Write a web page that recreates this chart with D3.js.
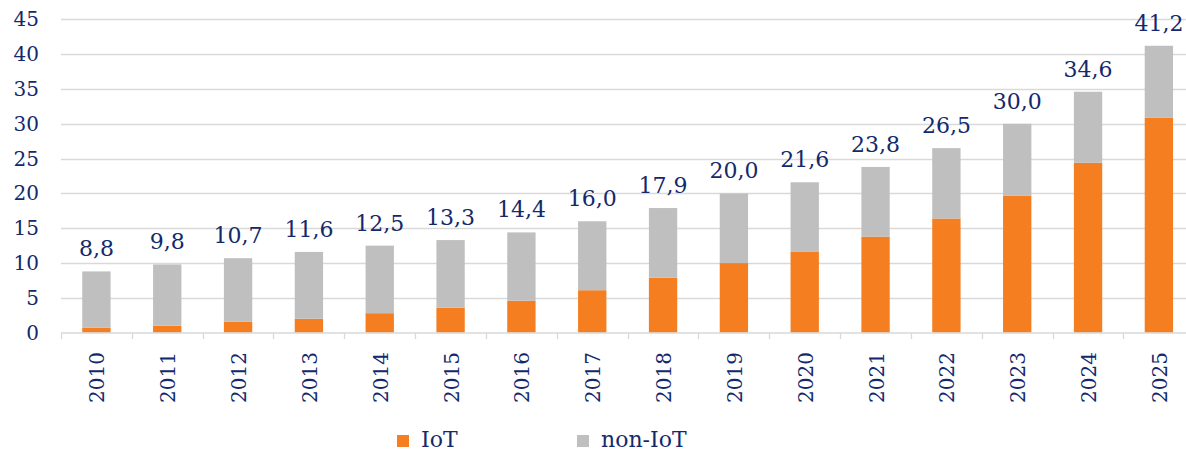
<!DOCTYPE html>
<html>
<head>
<meta charset="utf-8">
<script src="https://cdn.jsdelivr.net/npm/d3@7"></script>
<style>
  body { margin: 0; background: #fff; }
  svg { display: block; font-family: "DejaVu Serif", serif; }
</style>
</head>
<body>
<svg id="chart"></svg>
<script>
// Chart data
var years = ["2010", "2011", "2012", "2013", "2014", "2015", "2016", "2017",
             "2018", "2019", "2020", "2021", "2022", "2023", "2024", "2025"];
var iot    = [0.7, 1.0, 1.6, 2.0, 2.8, 3.6, 4.6, 6.1, 7.9, 10.0, 11.6, 13.8, 16.4, 19.7, 24.4, 30.9];
var nonIot = [8.1, 8.8, 9.1, 9.6, 9.7, 9.7, 9.8, 9.9, 10.0, 10.0, 10.0, 10.0, 10.1, 10.3, 10.2, 10.3];
var yTicks = [0, 5, 10, 15, 20, 25, 30, 35, 40, 45];
var seriesNames = ["IoT", "non-IoT"];

// Canvas size:
const width = 1186, height = 453;
const navy = "#13296b", orange = "#f47e20", grey = "#bfbfbf";

var svg = d3.select("#chart")
    .attr("width", width)
    .attr("height", height);

// Build rows for the stack layout
var rows = years.map(function(y, i) { return {year: y, iot: iot[i], nonIot: nonIot[i]}; });
var stack = d3.stack().keys(["iot", "nonIot"])(rows);

// Scales:
var x = d3.scaleBand().domain(years).range([61, 1194.3])
    .paddingInner(0.6).paddingOuter(0.3);
var y = d3.scaleLinear().domain([0, 45]).range([332.7, 19.3]);

// comma decimal formatter
var fmt = d3.formatLocale({decimal: ",", thousands: ".", grouping: [3], currency: ["", ""]}).format(".1f");

// Gridlines
svg.append("g")
  .selectAll("line")
  .data(yTicks.filter(function(d) { return d > 0; }))
  .enter().append("line")
    .attr("x1", 61).attr("x2", width)
    .attr("y1", function(d) { return Math.round(y(d)) + 0.5; })
    .attr("y2", function(d) { return Math.round(y(d)) + 0.5; })
    .attr("stroke", "#d9d9d9")
    .attr("stroke-width", 1.3);

// Y axis labels
svg.append("g")
  .selectAll("text")
  .data(yTicks)
  .enter().append("text")
    .attr("x", 39)
    .attr("y", function(d) { return y(d) + 7; })
    .attr("text-anchor", "end")
    .attr("fill", navy)
    .style("font-size", "20px")
    .text(function(d) { return d; });

// Stacked bars
var colors = {iot: orange, nonIot: grey};
svg.append("g")
  .selectAll("g")
  .data(stack)
  .enter().append("g")
    .attr("fill", function(d) { return colors[d.key]; })
  .selectAll("rect")
  .data(function(d) { return d; })
  .enter().append("rect")
    .attr("x", function(d) { return x(d.data.year); })
    .attr("y", function(d) { return y(d[1]); })
    .attr("width", x.bandwidth())
    .attr("height", function(d) { return y(d[0]) - y(d[1]); });

// X axis line + ticks
var axisY = 333;
svg.append("line")
    .attr("x1", 61).attr("x2", width)
    .attr("y1", axisY).attr("y2", axisY)
    .attr("stroke", "#d9d9d9").attr("stroke-width", 1.5);
svg.append("g")
  .selectAll("line")
  .data(years)
  .enter().append("line")
    .attr("x1", function(d) { return Math.round(x(d) - x.step() * 0.3) + 0.5; })
    .attr("x2", function(d) { return Math.round(x(d) - x.step() * 0.3) + 0.5; })
    .attr("y1", axisY).attr("y2", axisY + 6)
    .attr("stroke", "#d9d9d9").attr("stroke-width", 1.3);

// Year labels, rotated
svg.append("g")
  .selectAll("text")
  .data(years)
  .enter().append("text")
    .attr("transform", function(d) {
      return "translate(" + (x(d) + x.bandwidth() / 2 + 8) + ",352) rotate(-90)";
    })
    .attr("text-anchor", "end")
    .attr("fill", navy)
    .style("font-size", "20px")
    .text(function(d) { return d; });

// Total labels above bars
svg.append("g")
  .selectAll("text")
  .data(rows)
  .enter().append("text")
    .attr("x", function(d) { return x(d.year) + x.bandwidth() / 2; })
    .attr("y", function(d) { return y(d.iot + d.nonIot) - 15; })
    .attr("text-anchor", "middle")
    .attr("fill", navy)
    .style("font-size", "22px")
    .text(function(d) { return fmt(d.iot + d.nonIot); });

// Legend
var legendX = [397, 577];
var legend = svg.append("g")
  .selectAll("g")
  .data(seriesNames)
  .enter().append("g")
    .attr("transform", function(d, i) { return "translate(" + legendX[i] + ",435)"; });
legend.append("rect")
    .attr("width", 12).attr("height", 12)
    .attr("fill", function(d, i) { return i === 0 ? orange : grey; });
legend.append("text")
    .attr("x", 24).attr("y", 12)
    .attr("fill", navy)
    .style("font-size", "22px")
    .text(function(d) { return d; });
</script>
</body>
</html>
